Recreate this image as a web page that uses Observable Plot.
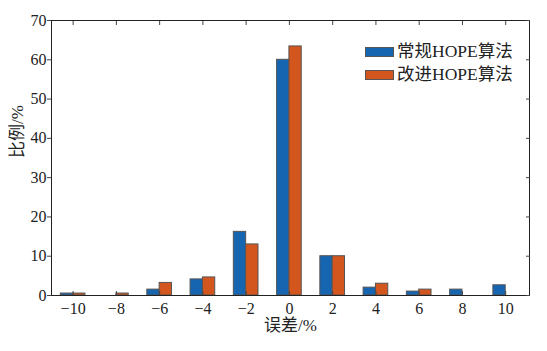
<!DOCTYPE html>
<html><head><meta charset="utf-8">
<script src="https://cdn.jsdelivr.net/npm/d3@7"></script>
<script src="https://cdn.jsdelivr.net/npm/@observablehq/plot@0.6"></script>
<style>
body{margin:0;background:#fff;}
#wrap{position:relative;width:547px;height:351px;}
svg text{font-family:"Liberation Serif","Noto Sans CJK SC",serif !important;}
#legend{position:absolute;left:365px;top:40px;font-family:"Liberation Serif","Noto Sans CJK SC",serif;font-size:17.5px;color:#222;line-height:23px;}
#legend .row{display:flex;align-items:center;white-space:nowrap;}
#legend .sw{display:inline-block;width:27px;height:8px;border:1px solid #555;margin-right:3px;}
</style></head><body><div id="wrap"><div id="legend"></div></div>
<script>
const categories = [-10,-8,-6,-4,-2,0,2,4,6,8,10];
const conventional = [0.5,0,1.5,4.1,16.2,60.0,10,2.0,1.0,1.5,2.6];
const improved = [0.5,0.5,3.2,4.6,13.0,63.4,10,3.0,1.5,0,0];
const seriesNames = ["常规HOPE算法","改进HOPE算法"];
const colors = ["#1565b1","#d3561f"];
const yTicks = [0,10,20,30,40,50,60,70];
const xTicks = categories;
const xLabel = "误差/%";
const yLabel = "比例/%";

const barW = 0.57;
const rows = [];
categories.forEach((c,i)=>{
  rows.push({cat:c, value:conventional[i], series:seriesNames[0], k:0});
  rows.push({cat:c, value:improved[i], series:seriesNames[1], k:1});
});
const font = '"Liberation Serif","Noto Sans CJK SC",serif';

const chart = Plot.plot({
  width:547, height:351,
  marginLeft:51, marginRight:18, marginTop:20, marginBottom:56,
  style:{fontFamily:font, fontSize:"16px", color:"#222", background:"#fff"},
  x:{domain:[-11,11.1], label:null},
  y:{domain:[0,70], label:null},
  color:{domain:seriesNames, range:colors},
  marks:[
    Plot.rectY(rows.filter(d=>d.value>0), {
      x1:d=>d.cat - barW + d.k*barW, x2:d=>d.cat + d.k*barW,
      y1:0, y2:"value", fill:"series", stroke:"#555", strokeWidth:1
    }),
    Plot.frame({stroke:"#222", strokeWidth:1}),
    Plot.axisY(yTicks, {tickSize:4, tickPadding:1, fontSize:16, stroke:"#444"}),
    Plot.axisY(yTicks, {anchor:"right", tickSize:-4, text:null, stroke:"#444"}),
    Plot.axisX(xTicks, {tickSize:-4, tickPadding:11, fontSize:16, stroke:"#444", tickFormat:d=>String(d).replace("-","\u2212")}),
    Plot.axisX(xTicks, {anchor:"top", tickSize:-4, text:null, stroke:"#444"}),
    Plot.text([xLabel], {frameAnchor:"bottom", dy:35, text:d=>d, fontSize:17}),
    Plot.text([yLabel], {frameAnchor:"left", dx:-34, rotate:-90, text:d=>d, fontSize:17})
  ]
});
const wrap = document.getElementById("wrap");
wrap.insertBefore(chart, wrap.firstChild);
const leg = document.getElementById("legend");
seriesNames.forEach((n,i)=>{
  const r = document.createElement("div"); r.className="row";
  const s = document.createElement("span"); s.className="sw"; s.style.background=colors[i];
  r.appendChild(s); r.appendChild(document.createTextNode(n)); leg.appendChild(r);
});
</script></body></html>
